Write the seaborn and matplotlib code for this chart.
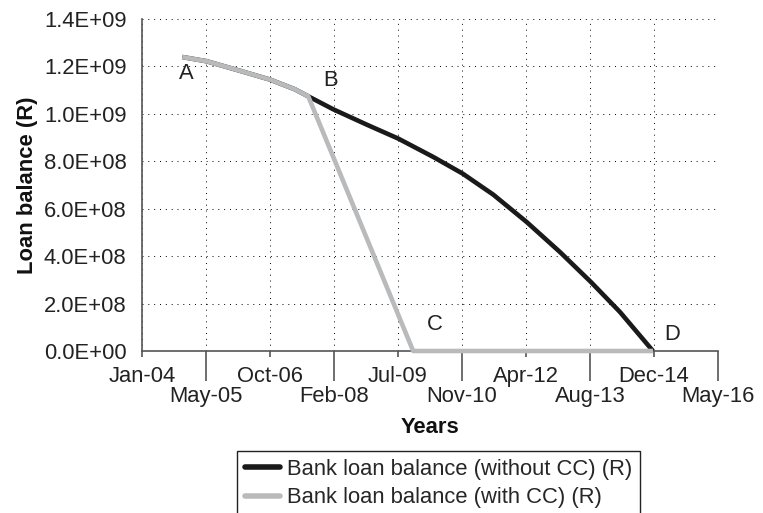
import numpy as np
import pandas as pd
import matplotlib
matplotlib.use("Agg")
import matplotlib.pyplot as plt
from matplotlib.ticker import FixedLocator, FixedFormatter
import seaborn as sns

sns.set_style("white")
plt.rcParams["font.family"] = ["Liberation Sans", "DejaVu Sans"]
plt.rcParams["font.size"] = 15.8

#%% data
without_dates = ["2004-11-12", "2005-05-23", "2006-01-25", "2006-10-01", "2007-04-14",
                 "2007-07-28", "2008-02-09", "2008-10-28", "2009-07-03", "2010-04-04",
                 "2010-11-20", "2011-07-18", "2012-04-05", "2012-12-22", "2013-08-22",
                 "2014-04-07", "2014-12-22"]
without_vals = [1.2398e9, 1.2217e9, 1.1837e9, 1.1445e9, 1.1036e9,
                1.074e9, 1.0192e9, 0.9547e9, 0.8957e9, 0.8181e9,
                0.7481e9, 0.6595e9, 0.544e9, 0.4175e9, 0.291e9,
                0.1645e9, 0.0]

with_dates = ["2004-11-12", "2005-05-23", "2006-01-25", "2006-10-01", "2007-04-14",
              "2007-07-28", "2009-10-28", "2014-12-22"]
with_vals = [1.2398e9, 1.2217e9, 1.1837e9, 1.1445e9, 1.1036e9,
             1.074e9, 0.0, 0.0]

series_names = ["Bank loan balance (without CC) (R)", "Bank loan balance (with CC) (R)"]
series_colors = ["#1a1a1a", "#b9babc"]

tick_labels = ["Jan-04", "May-05", "Oct-06", "Feb-08", "Jul-09",
               "Nov-10", "Apr-12", "Aug-13", "Dec-14", "May-16"]
y_ticks = [0, 2e8, 4e8, 6e8, 8e8, 1.0e9, 1.2e9, 1.4e9]

point_labels = ["A", "B", "C", "D"]
point_label_dates = ["2004-12-10", "2008-01-20", "2010-04-15", "2015-05-25"]
point_label_vals = [1.172e9, 1.139e9, 1.10e8, 0.675e8]

#%% build table
df = pd.concat([
    pd.DataFrame({"Date": pd.to_datetime(without_dates), "Balance": without_vals,
                  "Series": series_names[0]}),
    pd.DataFrame({"Date": pd.to_datetime(with_dates), "Balance": with_vals,
                  "Series": series_names[1]}),
], ignore_index=True)

fig = plt.figure(figsize=(7.63, 5.13), dpi=100)
ax = fig.add_axes([142 / 763, 1 - 351 / 513, 576 / 763, 332 / 513])

sns.lineplot(data=df, x="Date", y="Balance", hue="Series",
             hue_order=series_names, palette=dict(zip(series_names, series_colors)),
             estimator=None, sort=False, linewidth=3.3, ax=ax)
for ln in ax.get_lines():
    ln.set_clip_on(False)
    ln.set_zorder(4)
    ln.set_solid_capstyle("butt")
    ln.set_solid_joinstyle("round")

# x axis: Excel style staggered labels
tick_dates = pd.date_range("2004-01-01", periods=len(tick_labels), freq="502D")
tick_nums = matplotlib.dates.date2num(tick_dates.to_pydatetime())
ax.xaxis.set_major_locator(FixedLocator(tick_nums[0::2]))
ax.xaxis.set_major_formatter(FixedFormatter(tick_labels[0::2]))
ax.xaxis.set_minor_locator(FixedLocator(tick_nums[1::2]))
ax.xaxis.set_minor_formatter(FixedFormatter(tick_labels[1::2]))
ax.set_xlim(tick_nums[0], tick_nums[-1])

ax.set_ylim(0, 1.4e9)
ax.set_yticks(y_ticks)
ax.set_yticklabels(["{:.1E}".format(v) for v in y_ticks])

ax.tick_params(axis="y", length=0, pad=11, labelsize=15.8, colors="#222222")
ax.tick_params(axis="x", which="major", direction="out", length=4.3, width=1.2,
               color="#555555", pad=6.5, labelsize=15.8, labelcolor="#222222", bottom=True)
ax.tick_params(axis="x", which="minor", direction="out", length=21.6, width=1.2,
               color="#555555", pad=3.6, labelsize=15.8, labelcolor="#222222", bottom=True)

ax.grid(True, which="both", axis="x", color="black", linestyle=(0, (1, 5)), linewidth=0.7)
ax.grid(True, which="major", axis="y", color="black", linestyle=(0, (1, 5)), linewidth=0.7)

for s in ["top", "right"]:
    ax.spines[s].set_visible(False)
for s in ["left", "bottom"]:
    ax.spines[s].set_color("#555555")
    ax.spines[s].set_linewidth(1.2)

ax.set_ylabel("Loan balance (R)", fontweight="bold", fontsize=15.8, color="#111111")
ax.yaxis.set_label_coords(-0.18, 0.5)
ax.set_xlabel("Years", fontweight="bold", fontsize=15.8, color="#111111")
ax.xaxis.set_label_coords(0.5, -0.2)

for lab, d, v in zip(point_labels, point_label_dates, point_label_vals):
    ax.text(pd.Timestamp(d), v, lab, ha="center", va="center", fontsize=15.8, color="#222222")

sns.move_legend(ax, "upper left", bbox_to_anchor=(237 / 763, 1 - 451 / 513),
                bbox_transform=fig.transFigure, title=None, frameon=True, fancybox=False,
                edgecolor="#222222", framealpha=1, borderaxespad=0, borderpad=0.35,
                labelspacing=0.35, handlelength=1.6, handletextpad=0.35, fontsize=15.8)
leg = ax.get_legend()
leg.get_frame().set_linewidth(1.0)
for h in leg.legend_handles:
    h.set_linewidth(4)

fig.savefig("out.png", dpi=100)
